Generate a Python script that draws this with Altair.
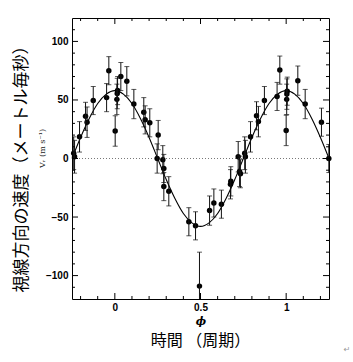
import altair as alt
import pandas as pd

# ---- observed radial velocities (phase, m/s, 1-sigma error) ----
phase = [-0.240, -0.235, -0.206, -0.171, -0.162, -0.126, -0.048, -0.035,
         0.002, 0.012, 0.014, 0.016, 0.035, 0.070, 0.111, 0.169, 0.177, 0.204,
         0.253, 0.247, 0.280, 0.286, 0.286, 0.315, 0.432, 0.471, 0.494,
         0.553, 0.578, 0.622, 0.675, 0.677, 0.720, 0.728, 0.733,
         0.758, 0.762, 0.792, 0.827, 0.838, 0.873, 0.947, 0.963,
         1.000, 1.003, 1.004, 1.006, 1.068, 1.111, 1.206, 1.249]
vel = [4.5, 1.5, 18.5, 36, 31, 49.5, 52, 75,
       23.5, 50.5, 55.5, 58, 70, 66, 46.5, 39.5, 33, 30.5,
       20, 0, -1, -8.5, -24, -28, -54, -57.5, -109,
       -44.5, -38, -39, -22, -19.5, 1.5, -11, -13,
       4.5, 1.5, 18.5, 36.5, 31.5, 49.5, 53, 75.5,
       24, 50.5, 55, 57.5, 66.5, 46.5, 31, 0]
err = [14, 14, 13, 12, 13, 12, 12, 12,
       13, 13, 13, 12, 12, 12.5, 12.5, 12.5, 12, 12,
       12.5, 12.5, 12, 12, 12, 12.5, 12, 12, 29,
       12.5, 12, 12, 12.5, 12.5, 13, 13, 12,
       14, 14, 13, 12, 13, 12, 12, 12,
       13, 13, 13, 12, 12.5, 12.5, 12, 12]

# ---- fitted orbit curve ----
curve_phase = [-0.25, -0.20, -0.15, -0.10, -0.05, 0.00, 0.05, 0.10, 0.15, 0.20,
               0.25, 0.30, 0.35, 0.40, 0.45, 0.50, 0.55, 0.60, 0.65, 0.70,
               0.75, 0.80, 0.85, 0.90, 0.95, 1.00, 1.05, 1.10, 1.15, 1.20, 1.25]
curve_vel = [0, 18, 34, 47, 55, 58, 55, 47, 34, 18,
             0, -18, -34, -47, -55, -58, -55, -47, -34, -18,
             0, 18, 34, 47, 55, 58, 55, 47, 34, 18, 0]

zero_line = [0]

x_major = [0, 0.5, 1]
x_minor = [-0.2, -0.1, 0.1, 0.2, 0.3, 0.4, 0.6, 0.7, 0.8, 0.9, 1.1, 1.2]
y_major = [-100, -50, 0, 50, 100]
y_minor = [-110, -90, -80, -70, -60, -40, -30, -20, -10,
           10, 20, 30, 40, 60, 70, 80, 90, 110]

y_label_text = ["視線方向の速度（メートル毎秒）"]
x_label_text = ["時間 （周期）"]
mark_text_sym = ["↵"]

W, H = 257, 281

pts = pd.DataFrame({"phase": phase, "v": vel, "err": err})
pts["lo"] = pts["v"] - pts["err"]
pts["hi"] = pts["v"] + pts["err"]
curve = pd.DataFrame({"phase": curve_phase, "v": curve_vel})

xs = alt.Scale(domain=[-0.25, 1.25], nice=False, zero=False)
ys = alt.Scale(domain=[-120, 120], nice=False, zero=False)

label_font = "Liberation Sans"

x_axis = alt.Axis(values=x_major, format=".1~f", ticks=False, domain=False, grid=False,
                  labelFont=label_font, labelFontSize=10, labelFontWeight="bold",
                  labelColor="black", labelPadding=3,
                  title="ϕ", titleFont="DejaVu Serif", titleFontSize=11,
                  titleFontStyle="italic", titleFontWeight="bold",
                  titleX=W / 2, titleY=22, titleBaseline="middle", titleColor="black")
y_axis = alt.Axis(values=y_major, format="d", ticks=False, domain=False, grid=False,
                  labelFont=label_font, labelFontSize=10, labelFontWeight="bold",
                  labelColor="black", labelPadding=4,
                  title="Vᵣ (m s⁻¹)", titleFont="DejaVu Serif", titleFontSize=8,
                  titleFontWeight="normal", titleColor="#222",
                  titleX=-30, titleY=130, titleBaseline="middle", titleAngle=270)

X = lambda f: alt.X(f, scale=xs, axis=x_axis)
Y = lambda f: alt.Y(f, scale=ys, axis=y_axis)

base = alt.Chart(pts)

points = base.mark_circle(color="black", opacity=1, size=30).encode(x=X("phase:Q"), y=Y("v:Q"))

zero = alt.Chart(pd.DataFrame({"v": zero_line})).mark_rule(
    color="#555", strokeDash=[1, 2], strokeWidth=0.8
).encode(y=Y("v:Q"))

curve_layer = alt.Chart(curve).mark_line(
    color="black", strokeWidth=1.1, interpolate="monotone"
).encode(x=X("phase:Q"), y=Y("v:Q"))

bars = base.mark_rule(color="#111", strokeWidth=1, clip=True).encode(
    x=X("phase:Q"), y=Y("lo:Q"), y2="hi:Q")
cap_lo = base.mark_tick(orient="horizontal", size=5, thickness=1, color="#111", clip=True).encode(
    x=X("phase:Q"), y=Y("lo:Q"))
cap_hi = base.mark_tick(orient="horizontal", size=5, thickness=1, color="#111", clip=True).encode(
    x=X("phase:Q"), y=Y("hi:Q"))

def xticks(vals, length):
    d = alt.Chart(pd.DataFrame({"phase": vals}))
    bot = d.mark_rule(color="black", strokeWidth=1).encode(
        x=X("phase:Q"), y=alt.value(H), y2=alt.value(H - length))
    top = d.mark_rule(color="black", strokeWidth=1).encode(
        x=X("phase:Q"), y=alt.value(0), y2=alt.value(length))
    return [bot, top]

def yticks(vals, length):
    d = alt.Chart(pd.DataFrame({"v": vals}))
    left = d.mark_rule(color="black", strokeWidth=1).encode(
        y=Y("v:Q"), x=alt.value(0), x2=alt.value(length))
    right = d.mark_rule(color="black", strokeWidth=1).encode(
        y=Y("v:Q"), x=alt.value(W), x2=alt.value(W - length))
    return [left, right]

tick_layers = xticks(x_major, 6) + xticks(x_minor, 3) + yticks(y_major, 6) + yticks(y_minor, 3)

ylab = alt.Chart(pd.DataFrame({"t": y_label_text})).mark_text(
    font="Noto Sans CJK JP", fontSize=17, angle=270, align="center", baseline="middle",
    color="black"
).encode(text="t:N", x=alt.value(-50), y=alt.value(147))

xlab = alt.Chart(pd.DataFrame({"t": x_label_text})).mark_text(
    font="Noto Sans CJK JP", fontSize=16, align="center", baseline="middle", color="black"
).encode(text="t:N", x=alt.value(W / 2), y=alt.value(323))

sym = alt.Chart(pd.DataFrame({"t": mark_text_sym})).mark_text(
    font="DejaVu Sans", fontSize=8, align="center", baseline="middle", color="#999"
).encode(text="t:N", x=alt.value(275), y=alt.value(332))

chart = alt.layer(
    points, zero, curve_layer, bars, cap_lo, cap_hi, *tick_layers, ylab, xlab, sym
).properties(
    width=W, height=H, autosize="none",
    padding={"left": 72, "top": 18, "right": 24, "bottom": 63},
    background="white"
).configure_view(stroke="black", strokeWidth=1)

chart.save("out.html", embed_options={"renderer": "svg", "actions": False})
